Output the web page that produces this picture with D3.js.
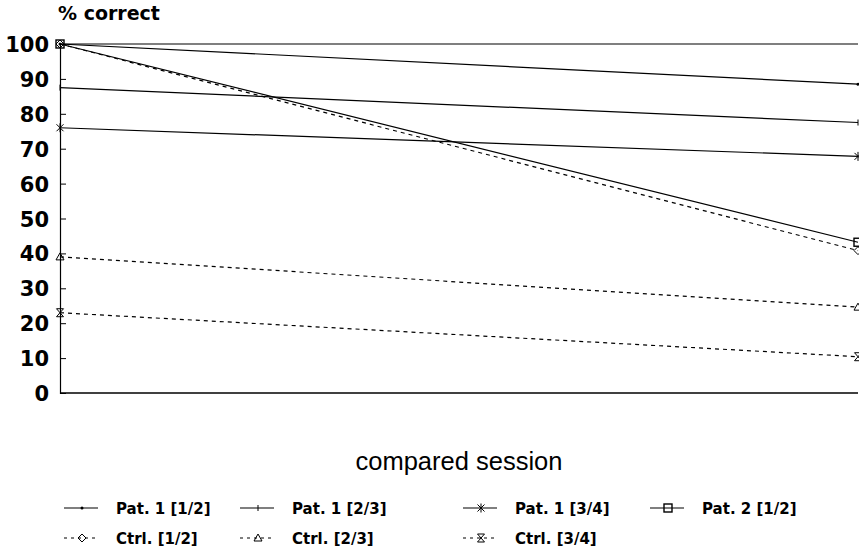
<!DOCTYPE html>
<meta charset="utf-8">
<style>
body { margin: 0; background: #fff; }
text { font-family: "DejaVu Sans", sans-serif; fill: #000; }
.tick text { font-weight: bold; font-size: 21px; }
.line { fill: none; stroke: #000; stroke-width: 1.2px; }
</style>
<body>
<script src="https://d3js.org/d3.v7.min.js"></script>
<script>

// sessions compared (first and second)
var sessions = [1, 2];
var yTicks = [0, 10, 20, 30, 40, 50, 60, 70, 80, 90, 100];

// % correct per series
var pat1_12 = [100, 88.5];
var pat1_23 = [87.5, 77.5];
var pat1_34 = [76, 67.8];
var pat2_12 = [100, 43.2];
var ctrl_12 = [100, 40.8];
var ctrl_23 = [39, 24.6];
var ctrl_34 = [23, 10.4];
var topLine = [100, 100];

var names = ["Pat. 1 [1/2]", "Pat. 1 [2/3]", "Pat. 1 [3/4]", "Pat. 2 [1/2]",
             "Ctrl. [1/2]", "Ctrl. [2/3]", "Ctrl. [3/4]"];

var series = [
  {name: names[0], values: pat1_12, dash: null, width: 1.2, sym: "dot"},
  {name: names[1], values: pat1_23, dash: null, width: 1.2, sym: "tick"},
  {name: names[2], values: pat1_34, dash: null, width: 1.2, sym: "star"},
  {name: names[3], values: pat2_12, dash: null, width: 2, sym: "square"},
  {name: names[4], values: ctrl_12, dash: "4,4", width: 1.1, sym: "diamond"},
  {name: names[5], values: ctrl_23, dash: "4,4", width: 1.1, sym: "triangle"},
  {name: names[6], values: ctrl_34, dash: "4,4", width: 1.1, sym: "hourglass"}
];

var width = 859, height = 554;
var svg = d3.select("body").append("svg")
    .attr("width", width)
    .attr("height", height);

var x = d3.scaleLinear().domain([1, 2]).range([60, 858]);
var y = d3.scaleLinear().domain([0, 100]).range([393, 44]);

// y axis, ticks pointing inward
var yAxis = svg.append("g")
    .attr("transform", "translate(60,0)")
    .call(d3.axisRight(y).tickValues(yTicks).tickSize(6).tickFormat(d3.format("d")));
yAxis.select(".domain").attr("stroke-width", 1.2);
yAxis.selectAll(".tick text").attr("x", -11).attr("text-anchor", "end").attr("dy", "0.36em");

// x axis line at 0
svg.append("line")
    .attr("x1", x(1)).attr("x2", x(2))
    .attr("y1", y(0)).attr("y2", y(0))
    .attr("stroke", "#000").attr("stroke-width", 1.6);

svg.append("text")
    .attr("x", 58).attr("y", 20)
    .attr("font-size", "19px").attr("font-weight", "bold")
    .text("% correct");

svg.append("text")
    .attr("x", 459).attr("y", 470)
    .attr("text-anchor", "middle")
    .attr("font-size", "25.5px")
    .style("font-family", "'Liberation Sans', Arial, sans-serif")
    .text("compared session");

var line = d3.line()
    .x(function(d, i) { return x(sessions[i]); })
    .y(function(d) { return y(d); });

svg.append("path")
    .datum(topLine)
    .attr("class", "line")
    .attr("d", line);

function marker(g, sym, cx, cy) {
  var s = 3.5;
  if (sym == "dot") {
    g.append("circle").attr("cx", cx).attr("cy", cy).attr("r", 1.5).attr("fill", "#000");
  } else if (sym == "tick") {
    g.append("line").attr("x1", cx).attr("x2", cx).attr("y1", cy - 3).attr("y2", cy + 3)
      .attr("stroke", "#000");
  } else if (sym == "star") {
    g.append("path").attr("d", "M" + (cx - s) + "," + (cy - s) + "L" + (cx + s) + "," + (cy + s) +
      "M" + (cx - s) + "," + (cy + s) + "L" + (cx + s) + "," + (cy - s) +
      "M" + cx + "," + (cy - s - 1) + "L" + cx + "," + (cy + s + 1))
      .attr("stroke", "#000").attr("fill", "none");
  } else if (sym == "square") {
    g.append("rect").attr("x", cx - 4).attr("y", cy - 4).attr("width", 8).attr("height", 8)
      .attr("fill", "none").attr("stroke", "#000").attr("stroke-width", 1.4);
  } else if (sym == "diamond") {
    g.append("path").attr("d", "M" + cx + "," + (cy - 4) + "L" + (cx + 4) + "," + cy +
      "L" + cx + "," + (cy + 4) + "L" + (cx - 4) + "," + cy + "Z")
      .attr("fill", "none").attr("stroke", "#000");
  } else if (sym == "triangle") {
    g.append("path").attr("d", "M" + cx + "," + (cy - 4) + "L" + (cx + 4) + "," + (cy + 3) +
      "L" + (cx - 4) + "," + (cy + 3) + "Z")
      .attr("fill", "none").attr("stroke", "#000");
  } else if (sym == "hourglass") {
    g.append("path").attr("d", "M" + (cx - 3.5) + "," + (cy - 4) + "L" + (cx + 3.5) + "," + (cy - 4) +
      "L" + (cx - 3.5) + "," + (cy + 4) + "L" + (cx + 3.5) + "," + (cy + 4) + "Z")
      .attr("fill", "none").attr("stroke", "#000");
  }
}

series.forEach(function(s) {
  svg.append("path")
    .datum(s.values)
    .attr("class", "line")
    .attr("stroke-width", s.width)
    .attr("stroke-dasharray", s.dash)
    .attr("d", line);
  var g = svg.append("g");
  s.values.forEach(function(v, i) {
    marker(g, s.sym, x(sessions[i]), y(v));
  });
});

// legend
var legX = [64, 240, 463, 650];
var legY = [514, 544];
series.forEach(function(s, i) {
  var col = i < 4 ? i : i - 4;
  var row = i < 4 ? 0 : 1;
  var lx = legX[col], ly = legY[row] - 6;
  var g = svg.append("g");
  g.append("line")
    .attr("x1", lx).attr("x2", lx + 34)
    .attr("y1", ly).attr("y2", ly)
    .attr("stroke", "#000").attr("stroke-width", 1.2)
    .attr("stroke-dasharray", s.dash ? "3,4" : null);
  marker(g, s.sym, lx + 18, ly);
  g.append("text")
    .attr("x", lx + 52).attr("y", legY[row])
    .attr("font-size", "15px").attr("font-weight", "bold")
    .text(s.name);
});

</script>
</body>
